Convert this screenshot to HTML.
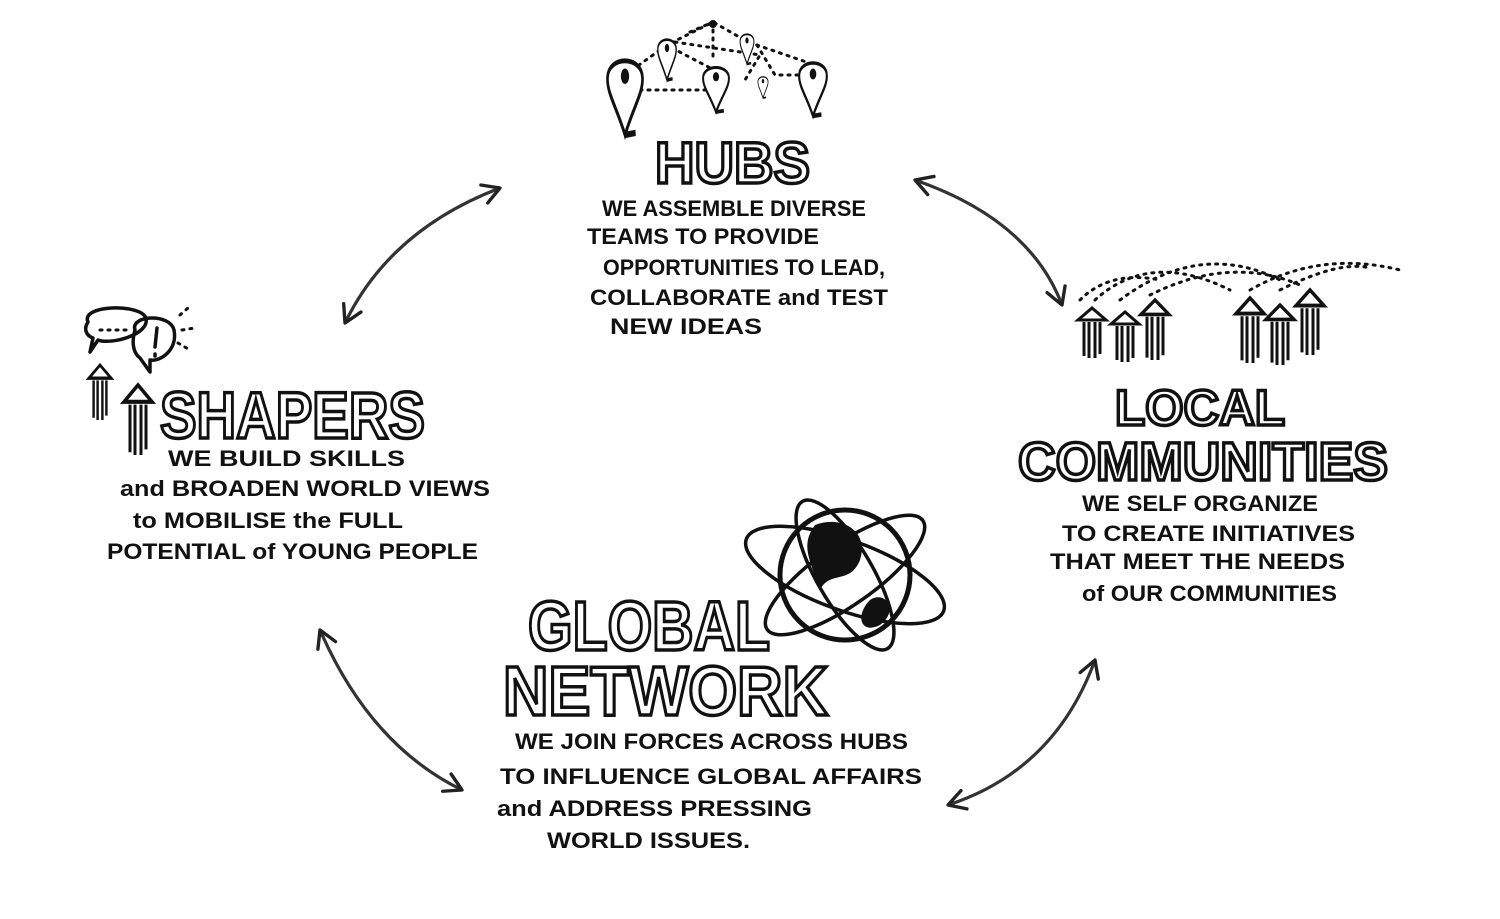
<!DOCTYPE html>
<html><head><meta charset="utf-8"><style>
html,body{margin:0;padding:0;background:#fff;}
svg{display:block}
.b{font-family:"Liberation Sans",sans-serif;font-weight:bold;font-size:22px;fill:#111;}
.t{font-family:"Liberation Sans",sans-serif;font-weight:bold;fill:#fff;stroke:#111;stroke-width:3.5;}
.d{fill:none;stroke:#111;stroke-width:3;stroke-dasharray:2 6;stroke-linecap:round}
.l{fill:none;stroke:#111;stroke-width:3.5;stroke-linecap:round;stroke-linejoin:round}
</style></head><body>
<svg width="1500" height="919" viewBox="0 0 1500 919" xmlns="http://www.w3.org/2000/svg">
<defs>
<marker id="ah" viewBox="0 0 20 20" refX="17" refY="10" markerWidth="24" markerHeight="24" orient="auto-start-reverse" markerUnits="userSpaceOnUse">
<path d="M3,2 L17,10 L3,18" fill="none" stroke="#222" stroke-width="2.8" stroke-linejoin="round" stroke-linecap="round"/>
</marker>
<g id="pin"><path d="M0,100 C-22,60 -48,40 -46,18 C-44,-14 44,-14 46,18 C48,40 22,60 0,100 Z" fill="#fff" stroke="#111" stroke-width="7"/><circle cx="0" cy="16" r="11" fill="#111"/><path d="M0,100 L28,97" stroke="#111" stroke-width="9"/></g>
<g id="man"><path d="M-14,12 L0,0 L14,12 Z" fill="#fff" stroke="#111" stroke-width="3"/><path d="M-8,14 L-8,48 M-3,14 L-3,50 M3,14 L3,50 M8,14 L8,46" stroke="#111" stroke-width="3"/></g>
</defs>

<g stroke="#333" stroke-width="3.2" fill="none">
<path d="M500,188 Q390,230 345,323" marker-start="url(#ah)" marker-end="url(#ah)"/>
<path d="M915,180 Q1030,220 1062,305" marker-start="url(#ah)" marker-end="url(#ah)"/>
<path d="M320,630 Q370,745 462,790" marker-start="url(#ah)" marker-end="url(#ah)"/>
<path d="M1095,660 Q1055,770 948,805" marker-start="url(#ah)" marker-end="url(#ah)"/>
</g>

<path class="d" d="M632,70 L667,45 L713,22 L748,42 L815,65 M640,90 L713,90 M675,42 L760,55 L745,80 M713,22 L713,60 M672,48 L718,72 M757,45 L775,75 L815,75 M690,32 L713,22"/>
<use href="#pin" transform="translate(625,65) scale(0.38,0.7)"/>
<use href="#pin" transform="translate(667,42) scale(0.2,0.38)"/>
<use href="#pin" transform="translate(716,70) scale(0.28,0.42)"/>
<use href="#pin" transform="translate(747,36) scale(0.15,0.28)"/>
<use href="#pin" transform="translate(763,78) scale(0.11,0.2)"/>
<use href="#pin" transform="translate(813,66) scale(0.3,0.5)"/>
<circle cx="713" cy="24" r="4" fill="#111"/>
<text class="t" x="655" y="183" font-size="58" textLength="155" lengthAdjust="spacingAndGlyphs">HUBS</text>
<g class="b">
<text x="602" y="216" textLength="264" lengthAdjust="spacingAndGlyphs">WE ASSEMBLE DIVERSE</text>
<text x="587" y="244" textLength="232" lengthAdjust="spacingAndGlyphs">TEAMS TO PROVIDE</text>
<text x="603" y="275" textLength="282" lengthAdjust="spacingAndGlyphs">OPPORTUNITIES TO LEAD,</text>
<text x="590" y="305" textLength="298" lengthAdjust="spacingAndGlyphs">COLLABORATE and TEST</text>
<text x="610" y="334" textLength="152" lengthAdjust="spacingAndGlyphs">NEW IDEAS</text>
</g>

<path class="l" d="M88,322 C80,305 140,303 146,318 C150,335 110,345 98,340 L90,352 L93,338 C85,335 84,328 88,322 Z" fill="#fff"/>
<path class="l" d="M135,330 C130,315 170,313 174,330 C178,350 160,362 150,360 L150,372 L140,358 C132,352 132,340 135,330 Z" fill="#fff"/>
<path class="l" d="M157,328 L155,347 M155,354 L155,356"/>
<path class="d" d="M100,330 L128,330"/>
<path class="d" d="M180,315 L188,308 M182,330 L195,328 M178,343 L190,350"/>
<use href="#man" transform="translate(100,365) scale(0.8,1.1)"/>
<use href="#man" transform="translate(138,385) scale(1,1.4)"/>
<text class="t" x="160" y="438" font-size="66" textLength="265" lengthAdjust="spacingAndGlyphs">SHAPERS</text>
<g class="b">
<text x="168" y="466" textLength="237" lengthAdjust="spacingAndGlyphs">WE BUILD SKILLS</text>
<text x="120" y="496" textLength="370" lengthAdjust="spacingAndGlyphs">and BROADEN WORLD VIEWS</text>
<text x="133" y="528" textLength="270" lengthAdjust="spacingAndGlyphs">to MOBILISE the FULL</text>
<text x="107" y="559" textLength="371" lengthAdjust="spacingAndGlyphs">POTENTIAL of YOUNG PEOPLE</text>
</g>

<path class="d" d="M1095,300 Q1150,250 1230,290 M1120,300 Q1200,240 1280,280 M1150,295 Q1230,255 1300,285 M1250,290 Q1320,250 1400,270 M1280,290 Q1340,260 1370,268 M1080,300 Q1110,270 1160,280"/>
<use href="#man" transform="translate(1092,308)"/>
<use href="#man" transform="translate(1125,312)"/>
<use href="#man" transform="translate(1155,300) scale(1,1.2)"/>
<use href="#man" transform="translate(1250,298) scale(1,1.3)"/>
<use href="#man" transform="translate(1280,305) scale(1,1.2)"/>
<use href="#man" transform="translate(1310,290) scale(1,1.3)"/>
<text class="t" x="1115" y="425" font-size="50" textLength="170" lengthAdjust="spacingAndGlyphs">LOCAL</text>
<text class="t" x="1018" y="480" font-size="54" textLength="370" lengthAdjust="spacingAndGlyphs">COMMUNITIES</text>
<g class="b">
<text x="1082" y="511" textLength="236" lengthAdjust="spacingAndGlyphs">WE SELF ORGANIZE</text>
<text x="1062" y="541" textLength="293" lengthAdjust="spacingAndGlyphs">TO CREATE INITIATIVES</text>
<text x="1050" y="569" textLength="295" lengthAdjust="spacingAndGlyphs">THAT MEET THE NEEDS</text>
<text x="1082" y="601" textLength="255" lengthAdjust="spacingAndGlyphs">of OUR COMMUNITIES</text>
</g>

<circle cx="845" cy="575" r="65" fill="#fff" stroke="#111" stroke-width="5"/>
<path d="M815,525 C840,515 870,530 860,560 C850,585 830,570 820,590 C810,560 800,545 815,525 Z" fill="#111"/>
<path d="M870,600 C885,590 900,610 880,625 C860,635 855,615 870,600 Z" fill="#111"/>
<g fill="none" stroke="#111" stroke-width="3.5">
<ellipse cx="845" cy="575" rx="105" ry="35" transform="rotate(20 845 575)"/>
<ellipse cx="845" cy="575" rx="95" ry="30" transform="rotate(-35 845 575)"/>
<ellipse cx="845" cy="575" rx="85" ry="28" transform="rotate(60 845 575)"/>
</g>
<text class="t" x="528" y="650" font-size="70" textLength="242" lengthAdjust="spacingAndGlyphs">GLOBAL</text>
<text class="t" x="503" y="715" font-size="70" textLength="325" lengthAdjust="spacingAndGlyphs">NETWORK</text>
<g class="b">
<text x="515" y="749" textLength="393" lengthAdjust="spacingAndGlyphs">WE JOIN FORCES ACROSS HUBS</text>
<text x="500" y="784" textLength="422" lengthAdjust="spacingAndGlyphs">TO INFLUENCE GLOBAL AFFAIRS</text>
<text x="497" y="816" textLength="315" lengthAdjust="spacingAndGlyphs">and ADDRESS PRESSING</text>
<text x="547" y="848" textLength="203" lengthAdjust="spacingAndGlyphs">WORLD ISSUES.</text>
</g>
</svg>
</body></html>
